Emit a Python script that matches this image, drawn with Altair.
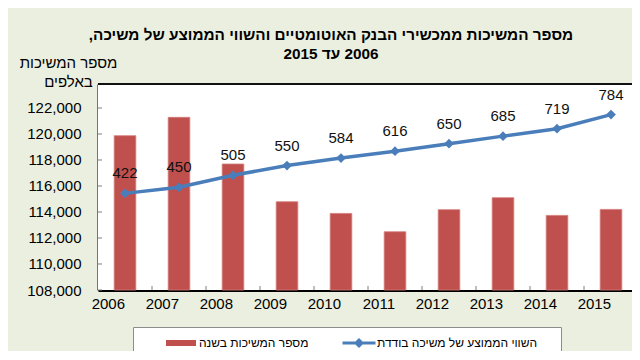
import altair as alt
import pandas as pd

# ---- data ----
years = [2006, 2007, 2008, 2009, 2010, 2011, 2012, 2013, 2014, 2015]
withdrawals = [119870, 121280, 117690, 114790, 113890, 112480, 114180, 115100, 113740, 114200]
avg_value = [422, 450, 505, 550, 584, 616, 650, 685, 719, 784]
y_ticks = [108000, 110000, 112000, 114000, 116000, 118000, 120000, 122000]
bar_name = "מספר המשיכות בשנה"
line_name = "השווי הממוצע של משיכה בודדת"
title_lines = ["\u202bמספר המשיכות ממכשירי הבנק האוטומטיים והשווי הממוצע של משיכה,\u202c",
               "\u202b2006 עד 2015\u202c"]
y_title = ["מספר המשיכות", "באלפים"]

FONT = "Liberation Sans"
RED = "#C0504D"
BLUE = "#4A7EBB"
Y_MIN, Y_MAX = 108000, 123846
W, H = 534, 206
BAND_RANGE = [0, 540]

df = pd.DataFrame({"year": years, "count": withdrawals, "avg": avg_value,
                   "series": [bar_name] * len(years)})
ticks_df = pd.DataFrame({"v": y_ticks})
bound_df = pd.DataFrame({"year": years[1:]})

x_scale = alt.Scale(domain=years, range=BAND_RANGE, paddingInner=0.6, paddingOuter=0.3)
x_enc = alt.X("year:O", scale=x_scale,
              axis=alt.Axis(title=None, labelAngle=0, labelFontSize=15, labelFont=FONT,
                            labelColor="#000", ticks=False, tickSize=0, labelPadding=13,
                            domainColor="#000", domainWidth=3))
y_scale = alt.Scale(domain=[Y_MIN, Y_MAX], nice=False, zero=False)

bars = alt.Chart(df).mark_bar(stroke="#D47C79", strokeWidth=0.8).encode(
    x=x_enc,
    y=alt.Y("count:Q", scale=y_scale,
            axis=alt.Axis(values=y_ticks, format=",d", title=y_title, titleAngle=0,
                          titleAlign="center", titleBaseline="alphabetic", titleX=-30, titleY=-17,
                          titleLineHeight=19, titleFontSize=15, titleFontWeight="normal",
                          titleFont=FONT, titleColor="#000",
                          labelFontSize=15, labelFont=FONT, labelColor="#000",
                          ticks=False, tickSize=0, labelPadding=17, grid=False,
                          domainColor="#000", domainWidth=2)),
    y2=alt.Y2(datum=Y_MIN),
    color=alt.Color("series:N",
                    scale=alt.Scale(domain=[bar_name, line_name], range=[RED, BLUE]),
                    legend=alt.Legend(
                        title=None, orient="none", legendX=68, legendY=244,
                        direction="horizontal", padding=0, columnPadding=33,
                        labelOffset=3, labelFontSize=12, labelFont=FONT, labelColor="#000",
                        labelLimit=400, symbolSize=900, symbolStrokeWidth=0, symbolOpacity=1,
                        symbolType={"expr": "datum.value == '" + bar_name + "' ? 'M-1,-0.2H1V0.2H-1Z' : 'M-1.1,-0.1H1.1V0.1H-1.1Z M0,-0.34L0.34,0L0,0.34L-0.34,0Z'"})),
)

y2 = alt.Y("avg:Q", scale=alt.Scale(domain=[-22, 924.5], nice=False, zero=False), axis=None)

line = alt.Chart(df).mark_line(
    color=BLUE, strokeWidth=3.5,
    point=alt.OverlayMarkDef(shape="diamond", size=95, filled=True, color=BLUE, opacity=1),
).encode(x=alt.X("year:O", scale=x_scale), y=y2)

labels = alt.Chart(df).mark_text(
    dy=-15, baseline="alphabetic", fontSize=15, font=FONT, color="#111"
).encode(x=alt.X("year:O", scale=x_scale), y=y2, text=alt.Text("avg:Q"))

# small inside tick marks
y_inside_ticks = alt.Chart(ticks_df).mark_rule(color="#7F7F7F", strokeWidth=1).encode(
    y=alt.Y("v:Q", scale=y_scale, axis=None), x=alt.value(0), x2=alt.value(4))
x_inside_ticks = alt.Chart(bound_df).mark_rule(color="#7F7F7F", strokeWidth=1, xOffset=-16.2).encode(
    x=alt.X("year:O", scale=x_scale, bandPosition=0), y=alt.value(H - 4), y2=alt.value(H))

one = pd.DataFrame({"k": [0]})
plot_bg = alt.Chart(one).mark_rect(fill="white").encode(
    x=alt.value(0), x2=alt.value(W), y=alt.value(0), y2=alt.value(H))
legend_box = alt.Chart(one).mark_rect(fill="white", stroke="#8C8C8C", strokeWidth=1).encode(
    x=alt.value(35.5), x2=alt.value(463.5), y=alt.value(243.5), y2=alt.value(330))
top_rule = alt.Chart(one).mark_rule(color="#111", strokeWidth=2).encode(
    x=alt.value(0), x2=alt.value(W), y=alt.value(0))

chart = alt.layer(plot_bg, legend_box, y_inside_ticks, x_inside_ticks, bars, line, labels,
                  top_rule).resolve_scale(
    y="independent"
).properties(
    width=W, height=H,
    background="#EBEFDF",
    padding={"left": 90, "top": 76, "right": 0, "bottom": 61},
    autosize=alt.AutoSizeParams(type="none"),
    title=alt.TitleParams(text=title_lines, fontSize=15.3, fontWeight="bold", font=FONT,
                          color="#000", anchor="middle", frame="group", dx=-34,
                          offset=24, dy=31, lineHeight=19),
).configure_view(stroke=None)

chart.save("out.html", embed_options={"renderer": "svg", "actions": False})
